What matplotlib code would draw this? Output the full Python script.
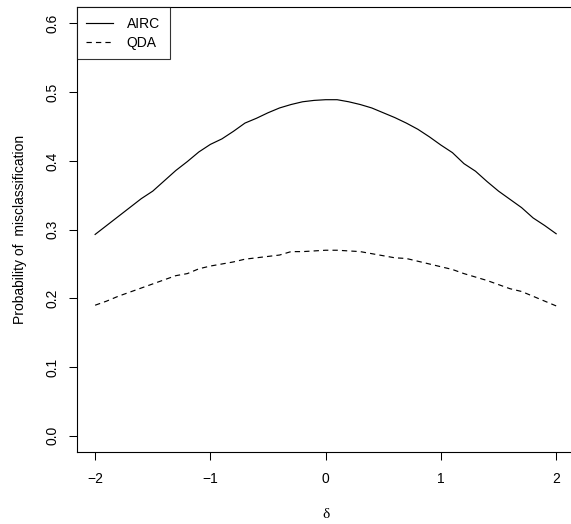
import numpy as np
import matplotlib
matplotlib.use("Agg")
import matplotlib.pyplot as plt

plt.rcParams["font.family"] = ["Liberation Sans", "DejaVu Sans"]

# Misclassification probability as a function of the shift delta
delta = [round(-2.0 + 0.1 * i, 1) for i in range(41)]

airc = [0.293, 0.306, 0.319, 0.332, 0.345, 0.356, 0.371, 0.386, 0.399, 0.413,
        0.424, 0.432, 0.443, 0.455, 0.462, 0.470, 0.477, 0.482, 0.486, 0.488,
        0.489, 0.489, 0.486, 0.482, 0.477, 0.470, 0.463, 0.455, 0.446, 0.435,
        0.423, 0.412, 0.396, 0.385, 0.370, 0.356, 0.344, 0.332, 0.317, 0.306,
        0.294]

qda = [0.190, 0.196, 0.203, 0.209, 0.215, 0.221, 0.227, 0.233, 0.236, 0.243,
       0.247, 0.250, 0.253, 0.257, 0.259, 0.261, 0.263, 0.268, 0.268, 0.269,
       0.270, 0.270, 0.269, 0.268, 0.265, 0.262, 0.259, 0.258, 0.254, 0.250,
       0.246, 0.242, 0.236, 0.231, 0.226, 0.220, 0.214, 0.210, 0.203, 0.196,
       0.189]

x_ticks = [-2, -1, 0, 1, 2]
x_tick_labels = ["\u22122", "\u22121", "0", "1", "2"]
y_ticks = [0.0, 0.1, 0.2, 0.3, 0.4, 0.5, 0.6]

fig = plt.figure(figsize=(5.71, 5.24), dpi=100)
ax = fig.add_axes([0.1343, 0.1368, 0.872, 0.850])

ax.plot(delta, airc, color="black", lw=0.85, label="AIRC")
ax.plot(delta, qda, color="black", lw=0.85, dashes=(4.5, 3.5), label="QDA")

ax.set_xlim(-2.16, 2.16)
ax.set_ylim(-0.024, 0.624)

ax.set_xticks(x_ticks)
ax.set_xticklabels(x_tick_labels)
ax.set_yticks(y_ticks)
ax.set_yticklabels([f"{v:.1f}" for v in y_ticks], rotation=90, va="center")
ax.tick_params(direction="out", length=5.5, width=0.75, labelsize=10)
ax.tick_params(axis="x", pad=8.5)
ax.tick_params(axis="y", pad=7)

for side in ["left", "bottom", "top", "right"]:
    ax.spines[side].set_linewidth(0.8)

ax.set_xlabel("\u03b4", family=["Liberation Serif", "DejaVu Serif"], fontsize=11,
              labelpad=16)
ax.set_ylabel("Probability of  misclassification", fontsize=10, labelpad=13)

leg = ax.legend(loc="upper left", fontsize=10, frameon=True, fancybox=False,
                borderaxespad=0, handlelength=1.95, handletextpad=0.95,
                borderpad=0.7, labelspacing=0.35)
leg.get_frame().set_edgecolor("black")
leg.get_frame().set_linewidth(0.8)

fig.savefig("out.png", dpi=100)
